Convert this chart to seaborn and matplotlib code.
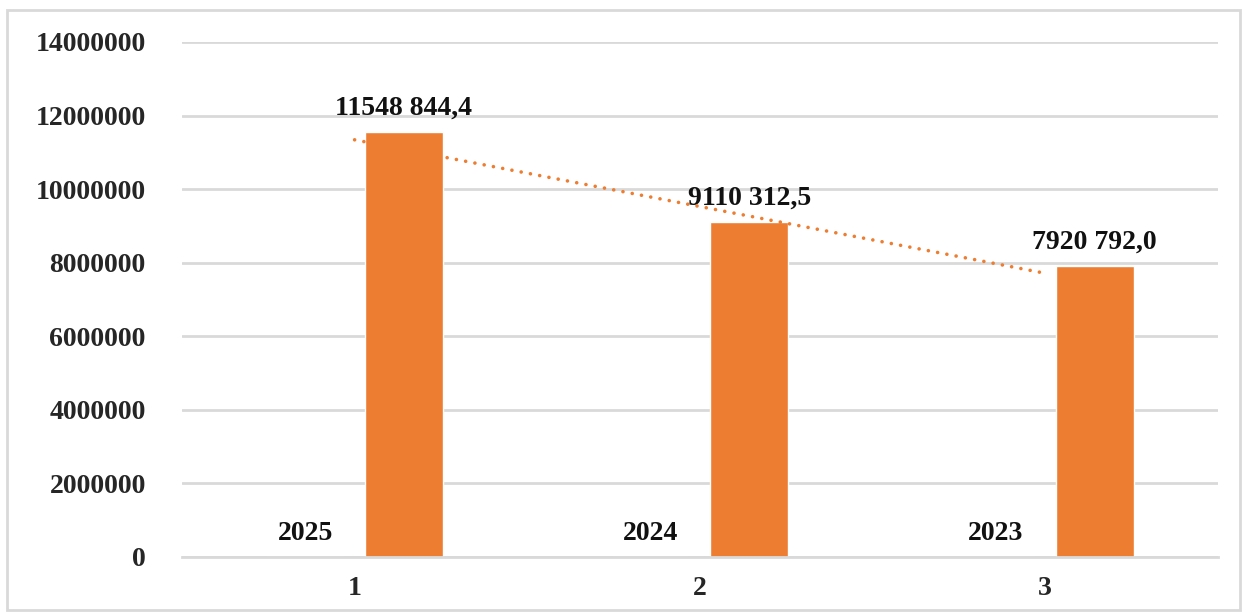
import matplotlib
matplotlib.use("Agg")
import matplotlib.pyplot as plt
import numpy as np
import pandas as pd
import seaborn as sns
from matplotlib.patches import Rectangle

categories = ["1", "2", "3"]
years = [2025, 2024, 2023]
amounts = [11548844.4, 9110312.5, 7920792.0]
y_ticks = [0, 2000000, 4000000, 6000000, 8000000, 10000000, 12000000, 14000000]

BLUE = "#4472C4"
ORANGE = "#ED7D31"
GRID = "#D9D9D9"
FS = 20


def fmt_amount(v: float) -> str:
    whole, frac = f"{v:.1f}".split(".")
    return f"{whole[:-3]} {whole[-3:]},{frac}"


df = pd.DataFrame({
    "cat":    categories * 2,
    "series": ["years"] * 3 + ["amount"] * 3,
    "value":  years + amounts,
})

sns.set_style("white")
plt.rcParams["font.family"] = ["Liberation Serif", "DejaVu Serif"]
plt.rcParams["font.weight"] = "bold"

fig = plt.figure(figsize=(12.46, 6.12), dpi=100)
ax = fig.add_axes([0.146, 0.0899, 0.8315, 0.8415])

sns.barplot(
    data=df, x="cat", y="value", hue="series",
    palette=[BLUE, ORANGE], width=0.572, gap=0.21,
    legend=False, ax=ax, saturation=1,
)

# year labels near the baseline, amount labels above the bars
ax.bar_label(ax.containers[0], labels=[str(y) for y in years],
             padding=8, fontsize=FS, fontweight="bold", color="#111111")
ax.bar_label(ax.containers[1], labels=[fmt_amount(v) for v in amounts],
             padding=8, fontsize=FS, fontweight="bold", color="#111111")

# linear trendline over the amount series
xs = np.arange(len(amounts))
k, b = np.polyfit(xs, amounts, 1)
ax.plot(xs, k * xs + b, color=ORANGE, lw=2.6,
        linestyle=(0, (0.01, 2.6)), dash_capstyle="round", zorder=3)

ax.set_ylim(0, 14000000)
ax.set_xlim(-0.5, len(categories) - 0.5)
ax.set_yticks(y_ticks)
ax.set_yticklabels([str(t) for t in y_ticks], fontsize=FS, fontweight="bold")
ax.yaxis.grid(True, color=GRID, lw=2)
ax.set_axisbelow(True)
ax.tick_params(axis="y", length=0, pad=26)

ax.set_xticks(xs)
ax.set_xticklabels(categories, fontsize=FS, fontweight="bold")
ax.set_xticks(np.arange(len(categories) + 1) - 0.5, minor=True)
ax.tick_params(axis="x", which="major", length=0, pad=14)
ax.tick_params(axis="x", which="minor", length=7, width=1.5, color=GRID)
ax.set_xlabel("")
ax.set_ylabel("")

for side in ["left", "right", "top"]:
    ax.spines[side].set_visible(False)
ax.spines["bottom"].set_color(GRID)
ax.spines["bottom"].set_linewidth(2)

fig.patches.append(Rectangle((0.006, 0.004), 0.989, 0.98, transform=fig.transFigure,
                             fill=False, edgecolor=GRID, lw=2))

fig.savefig("out.png", dpi=100)
plt.close(fig)
